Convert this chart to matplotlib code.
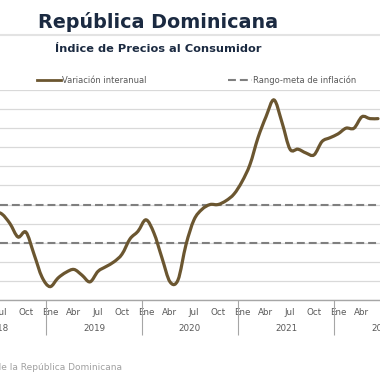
import matplotlib.pyplot as plt
from matplotlib.path import Path
from matplotlib.patches import PathPatch
from matplotlib.lines import Line2D

# variacion interanual del IPC (%), jun 2018 - jun 2022
inflacion = [4.65, 4.5, 4.0, 3.3, 3.55, 2.4, 1.2,
             0.7, 1.15, 1.45, 1.6, 1.3, 0.95, 1.5, 1.75, 2.0, 2.4, 3.2, 3.6,
             4.2, 3.5, 2.2, 0.95, 1.05, 2.9, 4.2, 4.75, 5.0, 5.0, 5.2, 5.55,
             6.2, 7.1, 8.5, 9.6, 10.48, 9.3, 7.9, 7.9, 7.7, 7.6, 8.3, 8.5,
             8.7, 9.0, 9.0, 9.6, 9.5, 9.5]
inicio = -7  # jun 2018, con ene 2019 = 0
meta_inf = 3
meta_sup = 5
meses = ['Ene', 'Abr', 'Jul', 'Oct']
anios = ['2018', '2019', '2020', '2021', '2022']

navy = '#1b2a41'
marron = '#6b5630'
gris = '#595959'


def ruta_suave(xs, ys):
    # curva suavizada tipo Excel (bezier cubica)
    pts = list(zip(xs, ys))
    verts = [pts[0]]
    codes = [Path.MOVETO]
    n = len(pts)
    for i in range(n - 1):
        p0 = pts[max(i - 1, 0)]
        p1 = pts[i]
        p2 = pts[i + 1]
        p3 = pts[min(i + 2, n - 1)]
        c1 = (p1[0] + (p2[0] - p0[0]) / 6, p1[1] + (p2[1] - p0[1]) / 6)
        c2 = (p2[0] - (p3[0] - p1[0]) / 6, p2[1] - (p3[1] - p1[1]) / 6)
        verts += [c1, c2, p2]
        codes += [Path.CURVE4] * 3
    return Path(verts, codes)


fig = plt.figure(figsize=(3.8, 3.8), dpi=100)
ax = fig.add_axes([0, 80 / 380, 1, 210 / 380])

x = list(range(inicio, inicio + len(inflacion)))
ax.add_patch(PathPatch(ruta_suave(x, inflacion), fill=False, edgecolor=marron,
                       lw=2.3, capstyle='round', zorder=4))
ax.axhline(meta_sup, color='#7f7f7f', lw=1.5, dashes=(3.8, 1.9), zorder=3)
ax.axhline(meta_inf, color='#7f7f7f', lw=1.5, dashes=(3.8, 1.9), zorder=3)

ax.set_yticks(range(0, 12))
ax.grid(axis='y', color='#d9d9d9', lw=0.9, zorder=0)
ax.tick_params(axis='y', left=False, labelleft=False)
for s in ['left', 'right', 'top']:
    ax.spines[s].set_visible(False)
ax.spines['bottom'].set_color('#a6a6a6')
ax.spines['bottom'].set_linewidth(1)

pos = [m for m in range(-12, 42) if m % 3 == 0]
ax.set_xticks(pos)
ax.set_xticklabels([meses[(m % 12) // 3] for m in pos])
ax.tick_params(axis='x', which='major', length=0, pad=5.5, labelsize=6.3,
               labelcolor=gris)
ax.set_xticks([-12.5 + 12 * k for k in range(5)], minor=True)
ax.tick_params(axis='x', which='minor', length=25, width=0.8, color='#a6a6a6')
ax.set_xlim(-6.25, 41.25)
ax.set_ylim(0, 11)
for k, a in enumerate(anios):
    ax.text(-6.5 + 12 * k, -0.138, a, transform=ax.get_xaxis_transform(),
            ha='center', va='center', fontsize=6.3, color=gris)

fig.text(38 / 380, 1 - 22 / 380, 'República Dominicana', fontsize=13.8,
         fontweight='bold', color=navy, ha='left', va='center')
fig.add_artist(Line2D([0, 1], [1 - 35 / 380] * 2, color='#e3e3e3', lw=1.5))
fig.text(55 / 380, 1 - 49 / 380, 'Índice de Precios al Consumidor', fontsize=8.2,
         fontweight='bold', color=navy, ha='left', va='center')

handles = [Line2D([], [], color=marron, lw=2),
           Line2D([], [], color='#7f7f7f', lw=1.5, dashes=(3.8, 1.9))]
ax.legend(handles, ['Variación interanual', 'Rango-meta de inflación'],
          ncol=2, frameon=False, fontsize=6, labelcolor=gris,
          loc='center left', bbox_to_anchor=(37 / 380, 1 - 80 / 380),
          bbox_transform=fig.transFigure, borderpad=0, borderaxespad=0,
          handlelength=2.9, handletextpad=0.12, columnspacing=9.7)

fig.text(122 / 380, 1 - 368 / 380,
         'Fuente: Banco Central de la República Dominicana', fontsize=6.5,
         color='#a0a0a0', ha='right', va='center')

fig.savefig('out.png', dpi=100)
